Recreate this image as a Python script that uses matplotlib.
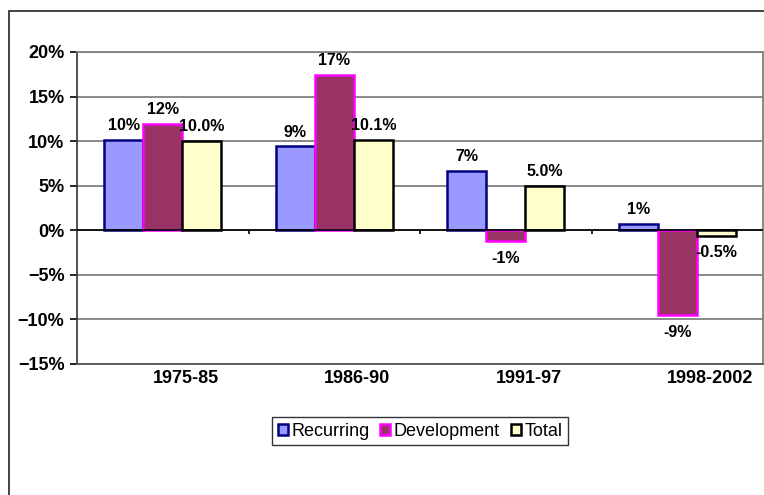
import numpy as np
import matplotlib.pyplot as plt
from matplotlib.patches import Rectangle
from matplotlib.ticker import FuncFormatter
import matplotlib.transforms as mtransforms

# data
periods = ["1975-85", "1986-90", "1991-97", "1998-2002"]
recurring = [10.1, 9.4, 6.7, 0.7]
development = [11.9, 17.4, -1.2, -9.5]
total = [10.0, 10.1, 5.0, -0.6]
recurring_lbl = ["10%", "9%", "7%", "1%"]
development_lbl = ["12%", "17%", "-1%", "-9%"]
total_lbl = ["10.0%", "10.1%", "5.0%", "-0.5%"]

plt.rcParams['font.family'] = ['Liberation Sans', 'DejaVu Sans']

fig = plt.figure(figsize=(7.64, 4.95), dpi=100)
fig.patch.set_facecolor('white')
# outer chart frame (runs off the right and bottom of the picture)
fig.patches.append(Rectangle((9/764, -0.5), 2.0, 1 - 11/495 + 0.5, transform=fig.transFigure,
                             fill=False, edgecolor='#222222', lw=1.2))

ax = fig.add_axes([77/764, 1 - 364/495, 686/764, 312/495])

x = np.arange(len(periods))
w = 0.228
series = [
    (recurring, recurring_lbl, '#9999FF', '#000080', -w),
    (development, development_lbl, '#993366', '#FF00FF', 0),
    (total, total_lbl, '#FFFFCC', '#000000', w),
]
for vals, lbls, fc, ec, off in series:
    bars = ax.bar(x + off, vals, w, color=fc, edgecolor=ec, linewidth=1.8, zorder=3)
    for b, v, s in zip(bars, vals, lbls):
        if v >= 0:
            ax.annotate(s, (b.get_x() + b.get_width() / 2, v), xytext=(0, 5),
                        textcoords='offset points', ha='center', va='bottom',
                        fontsize=11.5, fontweight='bold', zorder=5)
        else:
            ax.annotate(s, (b.get_x() + b.get_width() / 2, v), xytext=(0, -7),
                        textcoords='offset points', ha='center', va='top',
                        fontsize=11.5, fontweight='bold', zorder=5)

ax.set_xlim(-0.5, len(periods) - 0.5)
ax.set_ylim(-15, 20)
ax.set_yticks(np.arange(-15, 21, 5))
ax.yaxis.set_major_formatter(FuncFormatter(lambda v, p: ("\u2212" if v < 0 else "") + "%d%%" % abs(v)))
ax.grid(axis='y', color='#808080', lw=1.3, zorder=0)
ax.set_axisbelow(True)

# zero axis line with category tick marks
ax.axhline(0, color='black', lw=1.2, zorder=4)
ax.vlines(x[:-1] + 0.5, -0.45, 0, color='black', lw=1.2, zorder=4)

ax.set_xticks(x)
ax.set_xticklabels(periods, fontsize=13, fontweight='bold')
ax.tick_params(axis='x', length=0, pad=4)
offset = mtransforms.ScaledTranslation(-10/100, 0, fig.dpi_scale_trans)
for lab in ax.get_xticklabels():
    lab.set_ha('left')
    lab.set_transform(lab.get_transform() + offset)
ax.tick_params(axis='y', length=5, width=1.2, pad=4, labelsize=13, direction='out')
for lab in ax.get_yticklabels():
    lab.set_fontweight('bold')

for s in ['top', 'right']:
    ax.spines[s].set_color('#808080')
    ax.spines[s].set_linewidth(1.3)
ax.spines['left'].set_color('#333333')
ax.spines['left'].set_linewidth(1.2)
ax.spines['bottom'].set_color('#555555')
ax.spines['bottom'].set_linewidth(1.3)

handles = [Rectangle((0, 0), 1, 1, facecolor=fc, edgecolor=ec, lw=1.8) for _, _, fc, ec, _ in series]
leg = fig.legend(handles, ["Recurring", "Development", "Total"], loc='center',
                 bbox_to_anchor=(420/764, 1 - 431/495), ncol=3, fontsize=13,
                 frameon=True, fancybox=False, handlelength=0.55, handleheight=0.55,
                 handletextpad=0.2, columnspacing=0.6, borderpad=0.3, borderaxespad=0)
leg.get_frame().set_edgecolor('black')
leg.get_frame().set_linewidth(1.0)

fig.savefig('out.png', dpi=100)
